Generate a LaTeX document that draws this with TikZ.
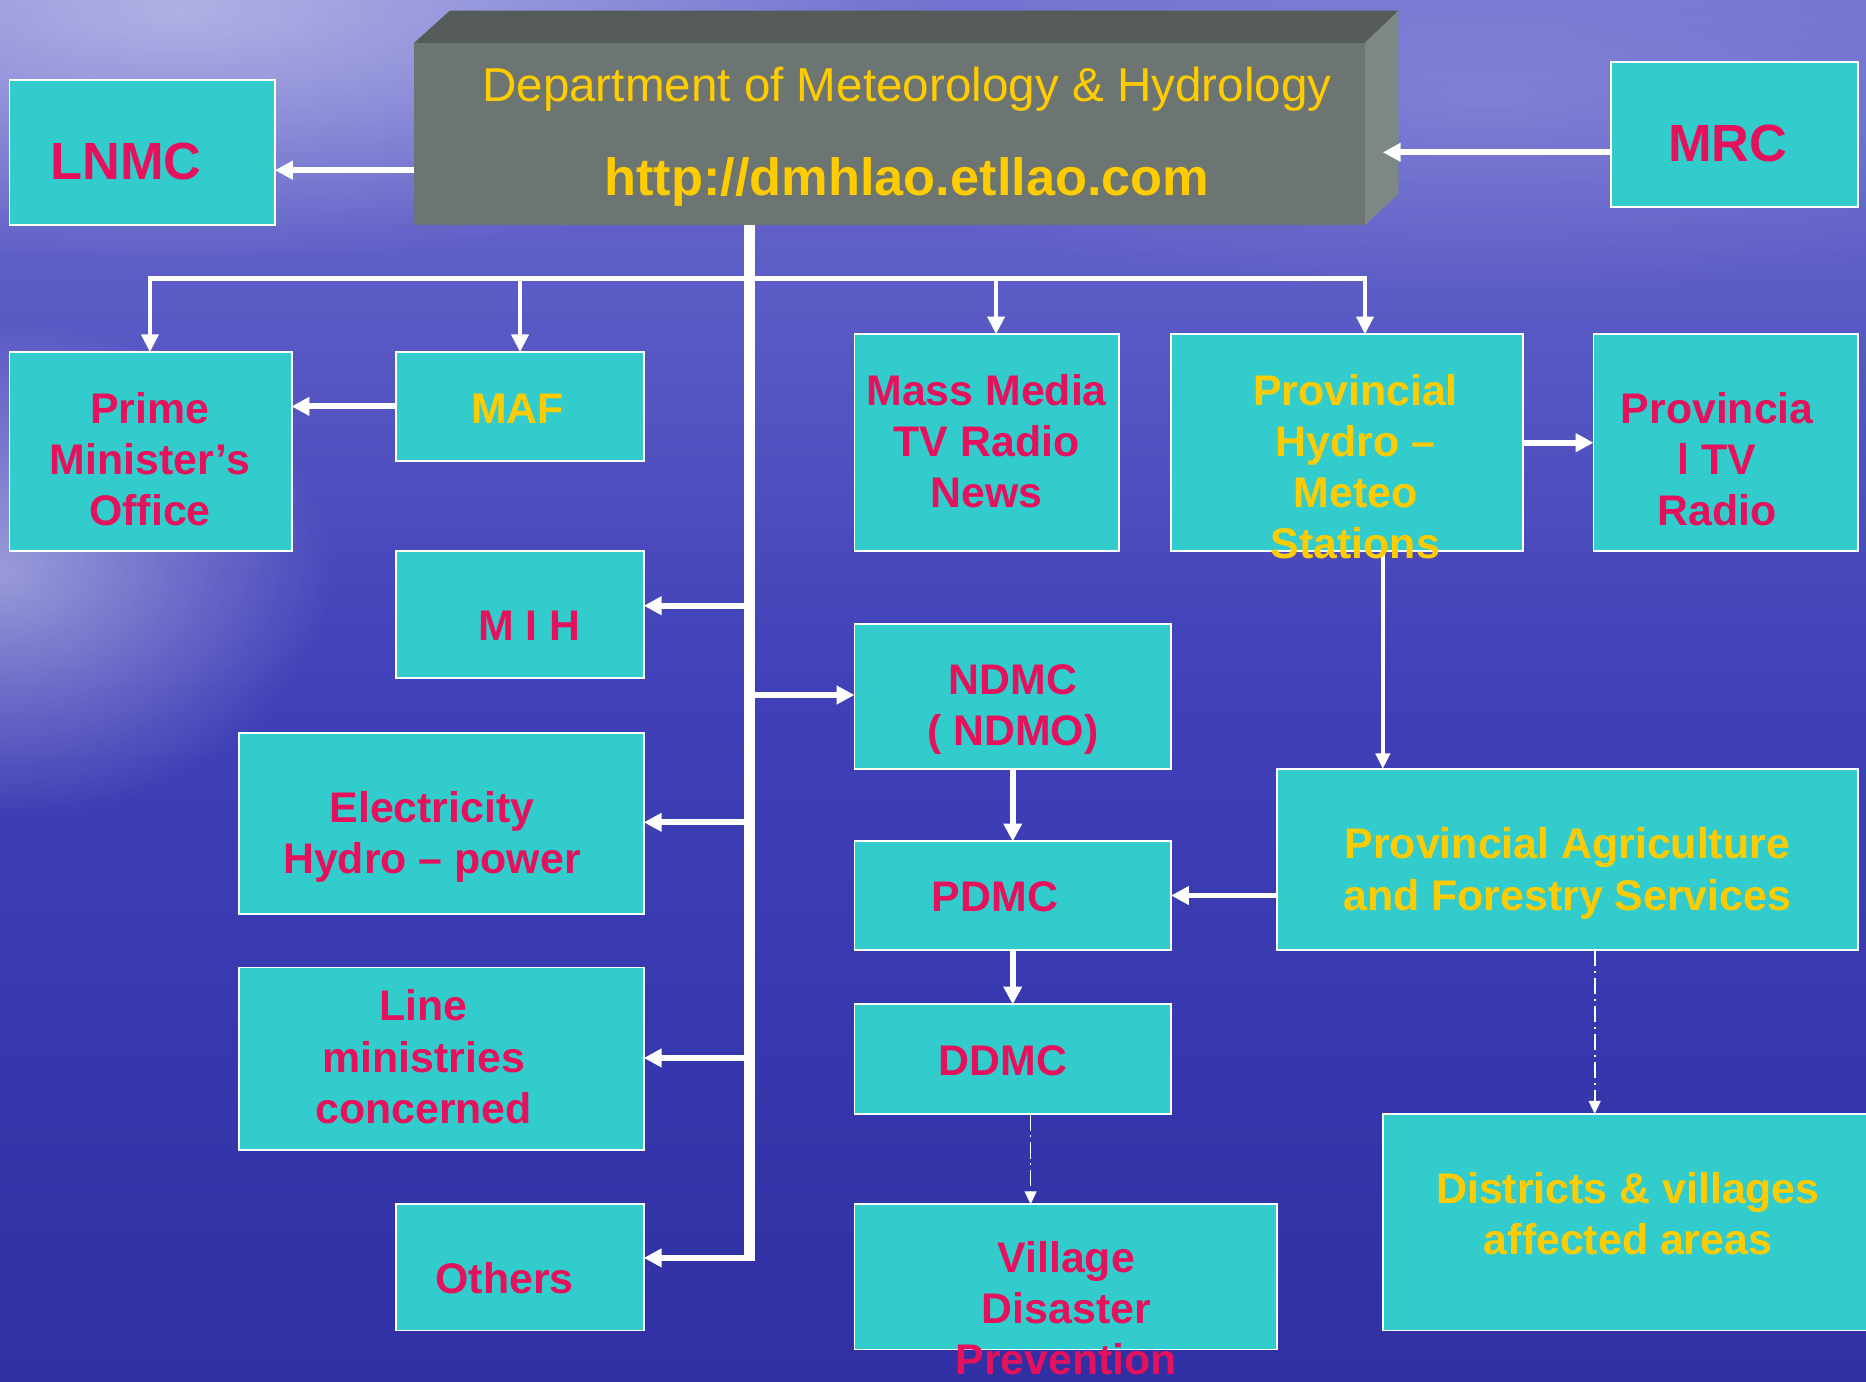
\documentclass[tikz,border=0pt]{standalone}
\usepackage{fontspec}
\setmainfont{Liberation Sans}
\usetikzlibrary{arrows.meta,fadings}
\definecolor{boxcyan}{RGB}{51,204,204}
\definecolor{magtext}{RGB}{230,17,92}
\definecolor{yeltext}{RGB}{255,204,0}
\definecolor{dmhfront}{RGB}{108,117,114}
\definecolor{dmhtop}{RGB}{85,91,88}
\definecolor{dmhsidec}{RGB}{125,135,131}
\definecolor{bgtop}{RGB}{112,112,208}
\definecolor{bgmid}{RGB}{64,64,184}
\definecolor{bgbot}{RGB}{48,48,164}
\tikzfading[name=glowfade, inner color=transparent!0, outer color=transparent!100]
\begin{document}
\begin{tikzpicture}[x=1pt,y=-1pt,
  box/.style={draw=white, line width=1.6pt, fill=boxcyan, anchor=north west, inner sep=0pt, outer sep=0pt},
  txt/.style={inner sep=0pt, align=center, font=\fontsize{36}{43}\selectfont\bfseries},
  mag/.style={txt, text=magtext},
  yel/.style={txt, text=yeltext},
  bigarrow/.style={draw=white, line width=5pt, -{Triangle[length=15pt,width=15pt]}},
  droparrow/.style={draw=white, line width=4pt, -{Triangle[length=15pt,width=14pt]}},
  thinarrow/.style={draw=white, line width=3pt, -{Triangle[length=13pt,width=12pt]}},
  ddarrow/.style={draw=white, line width=1.5pt, dash pattern=on 14pt off 4pt on 1.5pt off 4pt, -{Triangle[length=11pt,width=10pt]}},
]
\useasboundingbox (0,0) rectangle (1568,1161);
\clip (0,0) rectangle (1568,1161);
% background
\shade[top color=bgtop, bottom color=bgbot, middle color=bgmid] (0,0) rectangle (1568,1161);
\fill[white, fill opacity=0.45, path fading=glowfade] (150,10) ellipse [x radius=650, y radius=210];
\fill[white, fill opacity=0.45, path fading=glowfade] (0,480) ellipse [x radius=280, y radius=210];
\fill[white, fill opacity=0.15, path fading=glowfade] (1250,80) ellipse [x radius=600, y radius=170];

% DMH 3D box
\node[anchor=north west, fill=dmhfront, minimum width=799pt, minimum height=153pt, inner sep=0pt, outer sep=0pt] (dmh) at (348,36) {};
\fill[dmhtop] (dmh.north west) -- (378,9) -- (1175,9) -- (dmh.north east) -- cycle;
\fill[dmhsidec] (dmh.north east) -- (1175,9) -- (1175,163) -- (dmh.south east) -- cycle;

% boxes
\node[box, minimum width=223pt, minimum height=122pt] (lnmc) at (8,67) {};
\node[box, minimum width=207pt, minimum height=122pt] (mrc) at (1354,52) {};
\node[box, minimum width=237pt, minimum height=167pt] (pmo) at (8,296) {};
\node[box, minimum width=208pt, minimum height=91pt] (maf) at (333,296) {};
\node[box, minimum width=222pt, minimum height=182pt] (mass) at (718,281) {};
\node[box, minimum width=296pt, minimum height=182pt] (phm) at (984,281) {};
\node[box, minimum width=222pt, minimum height=182pt] (ptv) at (1339,281) {};
\node[box, minimum width=208pt, minimum height=107pt] (mih) at (333,463) {};
\node[box, minimum width=266pt, minimum height=122pt] (ndmc) at (718,524) {};
\node[box, minimum width=340pt, minimum height=152pt] (elec) at (201,616) {};
\node[box, minimum width=266pt, minimum height=91pt] (pdmc) at (718,707) {};
\node[box, minimum width=488pt, minimum height=152pt] (pagri) at (1073,646) {};
\node[box, minimum width=340pt, minimum height=153pt] (line) at (201,813) {};
\node[box, minimum width=266pt, minimum height=92pt] (ddmc) at (718,844) {};
\node[box, minimum width=208pt, minimum height=106pt] (others) at (333,1012) {};
\node[box, minimum width=355pt, minimum height=122pt] (village) at (718,1012) {};
\node[box, minimum width=420pt, minimum height=182pt] (dist) at (1162,936) {};

% connectors
\coordinate (trunktop) at (dmh.south -| 629.5,0);
\coordinate (trunkbot) at (629.5,1059.5);
\draw[white, line width=9pt] (trunktop) -- (trunkbot);
\draw[white, line width=4pt] (124,234) -- (1149,234);
\draw[droparrow] (126,232) -- (pmo.north -| 126,0);
\draw[droparrow] (437,232) -- (maf.north);
\draw[droparrow] (837,232) -- (mass.north -| 837,0);
\draw[droparrow] (1147,232) -- (phm.north -| 1147,0);
\draw[bigarrow] (dmh.west |- 0,143) -- (lnmc.east |- 0,143);
\coordinate (dmhside) at (1162,128);
\draw[bigarrow] (mrc.west |- 0,128) -- (dmhside);
\draw[bigarrow] (maf.west) -- (pmo.east |- maf.west);
\draw[bigarrow] (626,509) -- (mih.east |- 0,509);
\draw[bigarrow] (633,584) -- (ndmc.west |- 0,584);
\draw[bigarrow] (626,691) -- (elec.east |- 0,691);
\draw[bigarrow] (626,889) -- (line.east |- 0,889);
\draw[bigarrow] (633,1057) -- (others.east |- 0,1057);
\draw[bigarrow] (ndmc.south) -- (pdmc.north);
\draw[bigarrow] (pdmc.south) -- (ddmc.north);
\draw[bigarrow] (pagri.west |- pdmc.east) -- (pdmc.east);
\draw[bigarrow] (phm.east) -- (ptv.west);
\draw[thinarrow] (phm.south -| 1162,0) -- (pagri.north -| 1162,0);
\draw[ddarrow] (ddmc.south -| 866,0) -- (village.north -| 866,0);
\draw[ddarrow] (pagri.south -| 1340,0) -- (dist.north -| 1340,0);

% texts
\node[inner sep=0pt, anchor=base, font=\fontsize{40}{48}\selectfont, text=yeltext] (dmh-t1) at (762,85) {Department of Meteorology \& Hydrology};
\node[inner sep=0pt, anchor=base, font=\fontsize{44}{52}\selectfont\bfseries, text=yeltext] (dmh-t2) at (762,164) {http://dmhlao.etllao.com};
\node[mag, anchor=base, font=\fontsize{44}{52}\selectfont\bfseries] (lnmc-t) at (106,151) {LNMC};
\node[mag, anchor=base, font=\fontsize{44}{52}\selectfont\bfseries] (mrc-t) at (1452,136) {MRC};
\node[mag] (pmo-t) at (126,386) {Prime\\Minister’s\\Office};
\node[yel, anchor=base] (maf-t) at (435,356) {MAF};
\node[mag] (mass-t) at (829,371) {Mass Media\\TV Radio\\News};
\node[yel] (phm-t) at (1139,392) {Provincial\\Hydro –\\Meteo\\Stations};
\node[mag] (ptv-t) at (1443,386) {Provincia\\l TV\\Radio};
\node[mag, anchor=base] (mih-t) at (445,538) {M I H};
\node[mag] (ndmc-t) at (851,596) {NDMC\\( NDMO)};
\node[mag] (elec-t) at (363,703) {Electricity\\Hydro – power};
\node[mag, anchor=base] (pdmc-t) at (836,766) {PDMC};
\node[yel] (pagri-t) at (1317,734) {Provincial Agriculture\\and Forestry Services};
\node[mag] (line-t) at (356,888) {Line\\ministries\\concerned};
\node[mag, anchor=base] (ddmc-t) at (843,904) {DDMC};
\node[mag, anchor=base] (others-t) at (424,1087) {Others};
\node[mag] (village-t) at (896,1099) {Village\\Disaster\\Prevention};
\node[yel] (dist-t) at (1368,1020) {Districts \& villages\\affected areas};
\end{tikzpicture}
\end{document}
